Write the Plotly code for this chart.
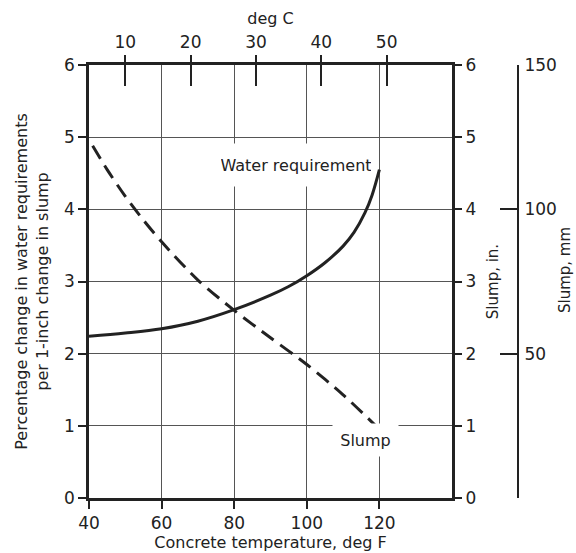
import plotly.graph_objects as go

# ---- data ----
temp_water_f = [40, 50, 60, 70, 80, 90, 95, 100, 105, 110, 113, 116, 118, 120]
water_req_pct = [2.24, 2.285, 2.345, 2.45, 2.61, 2.81, 2.93, 3.08, 3.26, 3.49, 3.68, 3.95, 4.2, 4.55]

temp_slump_f = [41, 45, 50, 55, 60, 70, 80, 90, 100, 110, 119]
slump_in = [4.88, 4.55, 4.18, 3.85, 3.55, 3.02, 2.6, 2.22, 1.85, 1.43, 1.0]

x_ticks_f = [40, 60, 80, 100, 120]
y_ticks = [0, 1, 2, 3, 4, 5, 6]
deg_c_ticks = [10, 20, 30, 40, 50]
slump_mm_ticks = [50, 100, 150]

FONT = "DejaVu Sans"
INK = "#222222"

# layout geometry (pixels); page body margin removed via post_script
W, H = 576, 553
L = 89
T = 65
plot_right = 452
plot_bottom = 498
R = 10
B = H - plot_bottom
PW = W - L - R
PH = H - T - B
x_dom_end = (plot_right - L) / PW
mm_axis = 518

fig = go.Figure()

fig.add_trace(go.Scatter(
    x=temp_water_f, y=water_req_pct, mode="lines", name="Water requirement",
    line=dict(color=INK, width=3, shape="spline", smoothing=1.0), showlegend=False))
fig.add_trace(go.Scatter(
    x=temp_slump_f, y=slump_in, mode="lines", name="Slump",
    line=dict(color=INK, width=3, dash="15px,8px", shape="spline", smoothing=0.8), showlegend=False))

# dummy traces to activate extra axes
fig.add_trace(go.Scatter(x=[None], y=[None], xaxis="x2", yaxis="y2", showlegend=False, hoverinfo="skip"))
fig.add_trace(go.Scatter(x=[None], y=[None], xaxis="x3", yaxis="y3", showlegend=False, hoverinfo="skip"))

deg_c_as_f = [c * 9 / 5 + 32 for c in deg_c_ticks]

fig.update_layout(
    width=W, height=H,
    margin=dict(l=L, r=R, t=T, b=B, autoexpand=False),
    paper_bgcolor="white", plot_bgcolor="white",
    font=dict(family=FONT, size=16, color=INK),
    xaxis=dict(
        domain=[0, x_dom_end],
        range=[40, 140], tickvals=x_ticks_f, ticktext=[str(v) for v in x_ticks_f],
        ticks="outside", ticklen=8, tickwidth=1.5, tickcolor=INK,
        showgrid=True, gridcolor="#555555", gridwidth=1,
        showline=True, linecolor=INK, linewidth=2.5, mirror=True,
        zeroline=False, tickfont=dict(size=17),
        title=dict(text="Concrete temperature, deg F", standoff=0, font=dict(size=16)),
    ),
    yaxis=dict(
        range=[0, 6], tickvals=y_ticks, ticks="outside", ticklen=8, tickwidth=1.5, tickcolor=INK,
        showgrid=True, gridcolor="#555555", gridwidth=1,
        showline=True, linecolor=INK, linewidth=2.5, mirror=True,
        zeroline=False, tickfont=dict(size=17),
        title=dict(text="Percentage change in water requirements<br>per 1-inch change in slump",
                   standoff=12, font=dict(size=16)),
    ),
    xaxis2=dict(
        domain=[0, x_dom_end],
        overlaying="x", side="top", anchor="y", range=[40, 140],
        tickvals=deg_c_as_f, ticktext=[str(c) for c in deg_c_ticks],
        ticks="inside", ticklen=21, tickwidth=1.5, tickcolor=INK,
        showgrid=False, zeroline=False, showline=False, tickfont=dict(size=17),
        ticklabelstandoff=13,
        title=dict(text="deg C", standoff=2, font=dict(size=16)),
    ),
    xaxis3=dict(
        domain=[0, x_dom_end],
        overlaying="x", side="top", anchor="y", range=[40, 140],
        tickvals=deg_c_as_f, ticks="outside", ticklen=9, tickwidth=1.5, tickcolor=INK,
        showticklabels=False, showgrid=False, zeroline=False, showline=False,
    ),
    yaxis2=dict(
        overlaying="y", side="right", anchor="x", range=[0, 6], tickvals=y_ticks,
        ticks="outside", ticklen=9, tickwidth=1.5, tickcolor=INK,
        showgrid=False, zeroline=False, showline=False, tickfont=dict(size=17),
        title=dict(text="Slump, in.", standoff=12, font=dict(size=15)),
    ),
    yaxis3=dict(
        overlaying="y", side="right", anchor="free", position=(mm_axis - L) / PW,
        range=[0, 150], tickvals=slump_mm_ticks,
        ticks="inside", ticklen=17, tickwidth=1.5, tickcolor=INK,
        showgrid=False, zeroline=False, showline=True, linecolor=INK, linewidth=2,
        tickfont=dict(size=17), ticklabelstandoff=2,
    ),
    annotations=[
        dict(text="Water requirement", x=96.9, y=4.61, xref="x", yref="y",
             showarrow=False, bgcolor="white", width=150, height=40,
             font=dict(size=16, family=FONT, color=INK)),
        dict(text="Slump", x=116.3, y=0.80, xref="x", yref="y",
             showarrow=False, bgcolor="white", width=63, height=30,
             font=dict(size=16, family=FONT, color=INK)),
        dict(text="Slump, mm", x=(565 - L) / PW, y=(plot_bottom - 270) / PH,
             xref="paper", yref="paper", xanchor="center", yanchor="middle",
             showarrow=False, textangle=-90,
             font=dict(size=15, family=FONT, color=INK)),
    ],
)

fig.write_html(
    "out.html",
    config={"displayModeBar": False},
    post_script="document.body.style.margin='0';document.body.style.overflow='hidden';",
)
